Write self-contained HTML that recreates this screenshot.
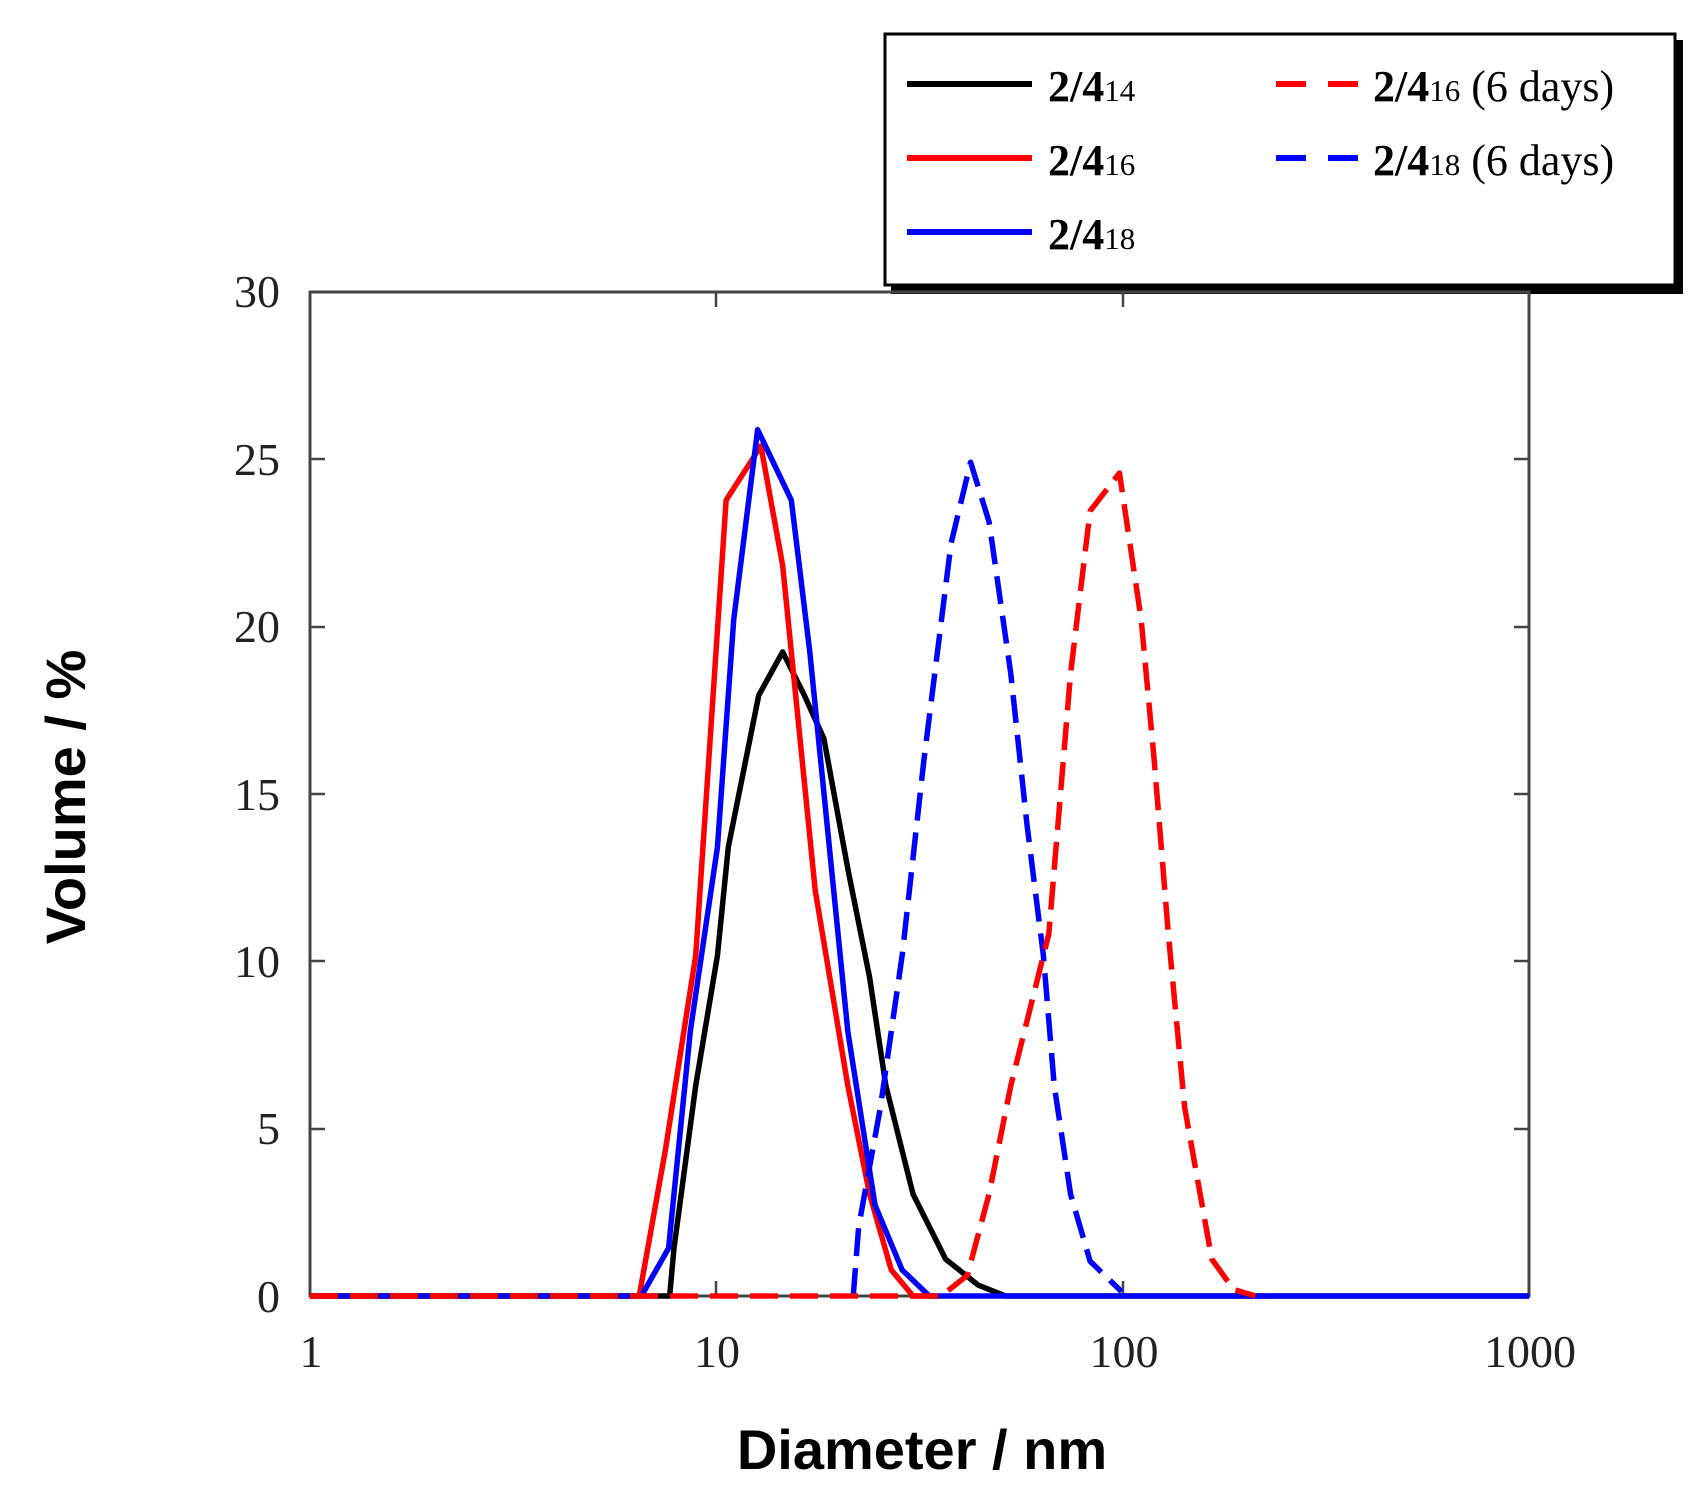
<!DOCTYPE html>
<html><head><meta charset="utf-8"><style>
html,body{margin:0;padding:0;background:#fff;}
svg{display:block;}
.t{font-family:"Liberation Serif",serif;font-size:46px;fill:#222;}
.lg{font-family:"Liberation Serif",serif;font-size:44px;font-weight:bold;fill:#000;}
.sb{font-size:31px;font-weight:normal;}
.nb{font-weight:normal;}
.ax{font-family:"Liberation Sans",sans-serif;font-weight:bold;font-size:56px;fill:#000;}
</style></head><body>
<svg width="1704" height="1491" viewBox="0 0 1704 1491" xmlns="http://www.w3.org/2000/svg">
<rect width="1704" height="1491" fill="#fff"/>
<rect x="891" y="40" width="792" height="254" fill="#000"/>
<rect x="885" y="34" width="790" height="251" fill="#fff" stroke="#000" stroke-width="3"/>
<g stroke-width="6">
<line x1="907" y1="84" x2="1032" y2="84" stroke="#000"/>
<line x1="907" y1="158" x2="1032" y2="158" stroke="#f00"/>
<line x1="907" y1="232" x2="1032" y2="232" stroke="#00f"/>
<line x1="1276" y1="84" x2="1370" y2="84" stroke="#f00" stroke-dasharray="30,22"/>
<line x1="1276" y1="158" x2="1370" y2="158" stroke="#00f" stroke-dasharray="30,22"/>
</g>
<text class="lg" x="1048" y="101">2/4<tspan class="sb">14</tspan></text>
<text class="lg" x="1048" y="175">2/4<tspan class="sb">16</tspan></text>
<text class="lg" x="1048" y="249">2/4<tspan class="sb">18</tspan></text>
<text class="lg" x="1373" y="101">2/4<tspan class="sb">16</tspan><tspan class="nb"> (6 days)</tspan></text>
<text class="lg" x="1373" y="175">2/4<tspan class="sb">18</tspan><tspan class="nb"> (6 days)</tspan></text>
<rect x="310" y="292" width="1219" height="1004" fill="none" stroke="#444" stroke-width="3"/>
<g stroke="#444" stroke-width="2.5">
<line x1="716" y1="292" x2="716" y2="307"/><line x1="1123" y1="292" x2="1123" y2="307"/>
<line x1="716" y1="1296" x2="716" y2="1281"/><line x1="1123" y1="1296" x2="1123" y2="1281"/>
<line x1="310" y1="1129" x2="325" y2="1129"/><line x1="310" y1="961" x2="325" y2="961"/><line x1="310" y1="794" x2="325" y2="794"/><line x1="310" y1="627" x2="325" y2="627"/><line x1="310" y1="459" x2="325" y2="459"/>
<line x1="1529" y1="1129" x2="1514" y2="1129"/><line x1="1529" y1="961" x2="1514" y2="961"/><line x1="1529" y1="794" x2="1514" y2="794"/><line x1="1529" y1="627" x2="1514" y2="627"/><line x1="1529" y1="459" x2="1514" y2="459"/>
</g>
<g class="t" text-anchor="end">
<text x="280" y="307">30</text><text x="280" y="475">25</text><text x="280" y="642">20</text>
<text x="280" y="810">15</text><text x="280" y="977">10</text><text x="280" y="1144">5</text><text x="280" y="1312">0</text>
</g>
<g class="t" text-anchor="middle">
<text x="311" y="1367">1</text><text x="717" y="1367">10</text><text x="1124" y="1367">100</text><text x="1530" y="1367">1000</text>
</g>
<text class="ax" x="922" y="1469" text-anchor="middle">Diameter / nm</text>
<text class="ax" x="85" y="797" text-anchor="middle" transform="rotate(-90 85 797)">Volume / %</text>
<g transform="matrix(1.0865 0 0 1.0842 0.35 1.43)" fill="none" stroke-width="5.5" stroke-linejoin="round">
<polyline vector-effect="non-scaling-stroke" stroke="#000" points="285,1194 616,1194 620,1150 640,1000 660,880 670,780 698,640 720,600 740,640 758,680 780,800 800,900 815,1000 830,1060 840,1100 870,1160 900,1184 925,1194 1407,1194"/>
<polyline vector-effect="non-scaling-stroke" stroke="#f00" points="285,1194 588,1194 612,1060 640,880 668,460 700,410 720,520 750,820 780,1000 800,1100 820,1170 840,1194 860,1194"/>
<polyline vector-effect="non-scaling-stroke" stroke="#00f" points="285,1194 590,1194 615,1150 635,950 660,780 675,570 697,395 728,460 745,600 765,800 780,950 805,1110 830,1170 855,1194 1407,1194"/>
<polyline vector-effect="non-scaling-stroke" stroke="#00f" stroke-dasharray="28,12" points="785,1194 790,1130 810,1020 830,880 850,700 875,500 893,425 910,480 930,620 945,760 960,880 970,1000 985,1100 1003,1162 1032,1190"/>
<polyline vector-effect="non-scaling-stroke" stroke="#f00" stroke-dasharray="28,12" points="285,1194 866,1194 890,1175 910,1100 930,1000 950,920 965,860 985,620 1003,470 1030,435 1050,570 1062,700 1075,860 1090,1020 1115,1160 1135,1188 1155,1194"/>
</g>
</svg>
</body></html>
